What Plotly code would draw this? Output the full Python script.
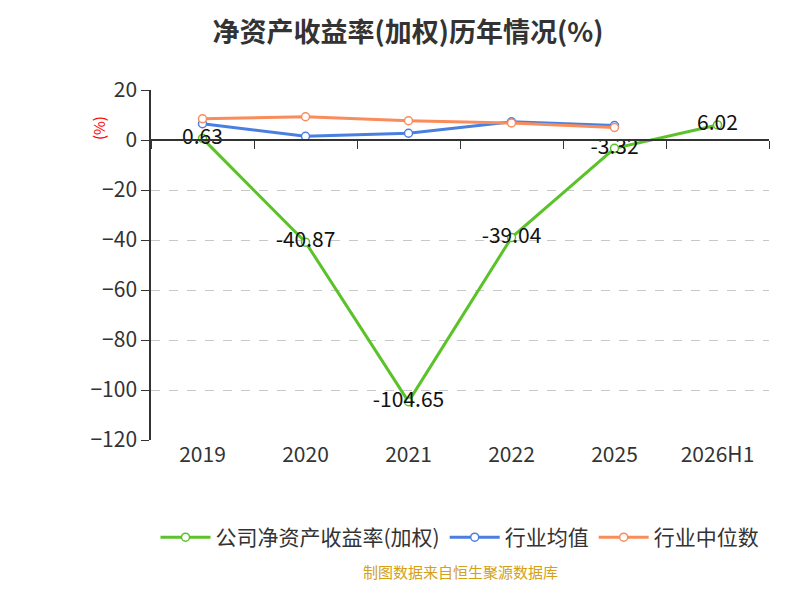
import plotly.graph_objects as go

years = ["2019", "2020", "2021", "2022", "2025", "2026H1"]
company = [0.63, -40.87, -104.65, -39.04, -3.32, 6.02]
ind_avg = [6.5, 1.5, 2.7, 7.3, 5.8, None]
ind_median = [8.5, 9.3, 7.7, 6.8, 5.0, None]

font = "Noto Sans CJK SC"
fig = go.Figure()
fig.add_trace(go.Scatter(x=years, y=company, name="公司净资产收益率(加权)", mode="lines+markers+text",
                         text=[f"{v:.2f}" for v in company], textposition="middle center",
                         textfont=dict(size=21, color="#111"),
                         line=dict(color="#5cc22a", width=3),
                         marker=dict(size=8, color="white", line=dict(color="#5cc22a", width=1.5))))
fig.add_trace(go.Scatter(x=years, y=ind_avg, name="行业均值", mode="lines+markers",
                         line=dict(color="#4a7fe0", width=3),
                         marker=dict(size=8, color="white", line=dict(color="#4a7fe0", width=1.5))))
fig.add_trace(go.Scatter(x=years, y=ind_median, name="行业中位数", mode="lines+markers",
                         line=dict(color="#f98c5a", width=3),
                         marker=dict(size=8, color="white", line=dict(color="#f98c5a", width=1.5))))
# invisible trace to show zero-line axis with boundary ticks
fig.add_trace(go.Scatter(x=years, y=[None]*6, xaxis="x2", showlegend=False, hoverinfo="skip"))

fig.update_layout(
    width=800, height=600, template="plotly_white",
    margin=dict(l=143, r=39, t=82, b=168),
    font=dict(family=font, size=21, color="#333"),
    title=dict(text="<b>净资产收益率(加权)历年情况(%)</b>", x=0.5, y=0.975, xanchor="center",
               font=dict(size=27, color="#333")),
    xaxis=dict(type="category", range=[-0.5, 5.5], showgrid=False, showline=False, ticks="",
               tickfont=dict(size=21, color="#333")),
    xaxis2=dict(type="category", range=[-0.5, 5.5], overlaying="x", anchor="free",
                position=300/350, showline=True, linecolor="#333", linewidth=1.5,
                ticks="outside", tickson="boundaries", ticklen=8, tickcolor="#333",
                showticklabels=False, showgrid=False, side="bottom"),
    yaxis=dict(range=[-120, 20], dtick=20, showline=True, linecolor="#333", linewidth=1.5,
               ticks="outside", ticklen=8, tickcolor="#333", zeroline=False,
               gridcolor="#c8c8c8", griddash="dash", tickfont=dict(size=21, color="#333")),
    legend=dict(orientation="h", x=0.5, xanchor="center", y=-0.22, yanchor="top",
                itemwidth=50, font=dict(size=21, color="#333")),
    annotations=[
        dict(text="(%)", x=-0.105, y=0.93, xref="paper", yref="paper", showarrow=False,
             textangle=-90, font=dict(size=15, color="red")),
        dict(text="制图数据来自恒生聚源数据库", x=0.5, y=-0.41, xref="paper", yref="paper",
             showarrow=False, font=dict(size=15, color="#d4a017")),
    ],
)
fig.write_html("out.html")
